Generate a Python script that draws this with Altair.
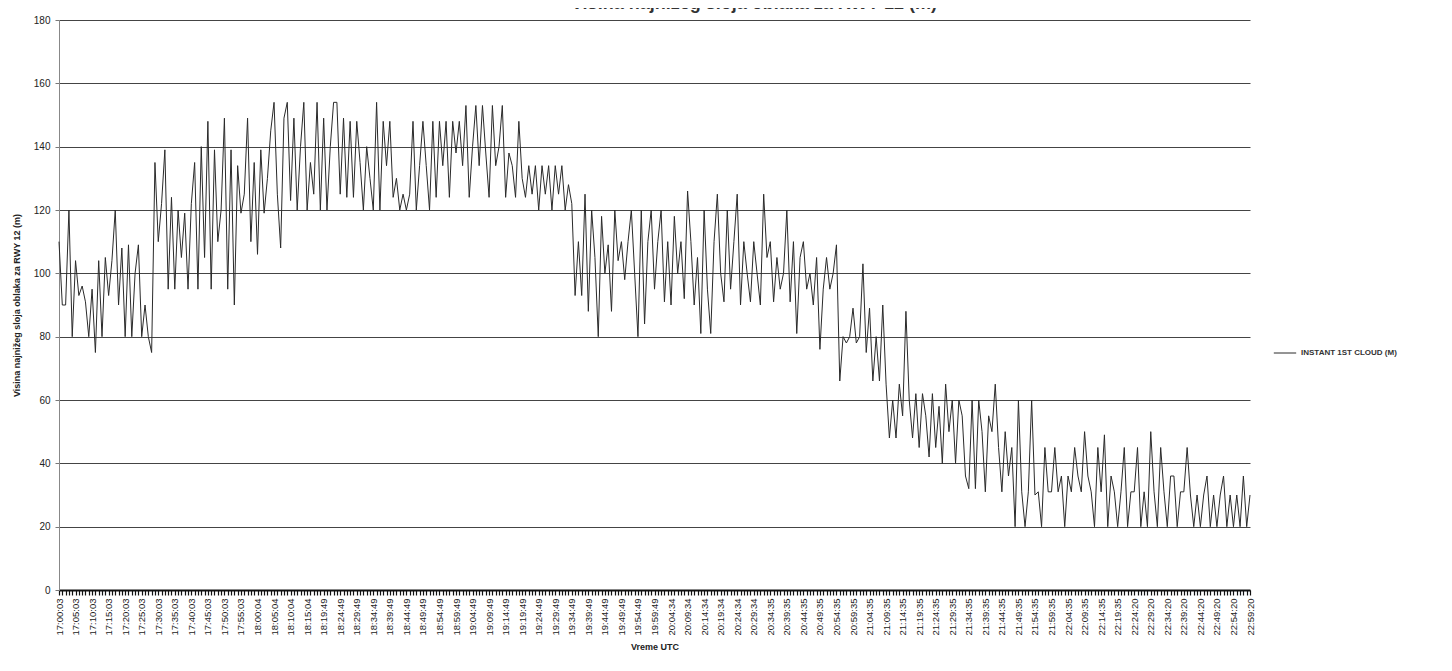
import json
import altair as alt
import pandas as pd

# ---------------- data ----------------
title_text = "Visina najnižeg sloja oblaka za RWY 12 (m)"
y_title = "Visina najnižeg sloja oblaka za RWY 12 (m)"
x_title = "Vreme UTC"
series_name = "INSTANT 1ST CLOUD (M)"

tick_labels = [
    "17:00:03", "17:05:03", "17:10:03", "17:15:03", "17:20:03", "17:25:03",
    "17:30:03", "17:35:03", "17:40:03", "17:45:03", "17:50:03", "17:55:03",
    "18:00:04", "18:05:04", "18:10:04", "18:15:04",
    "18:19:49", "18:24:49", "18:29:49", "18:34:49", "18:39:49", "18:44:49",
    "18:49:49", "18:54:49", "18:59:49", "19:04:49", "19:09:49", "19:14:49",
    "19:19:49", "19:24:49", "19:29:49", "19:34:49", "19:39:49", "19:44:49",
    "19:49:49", "19:54:49", "19:59:49",
    "20:04:34", "20:09:34", "20:14:34", "20:19:34", "20:24:34", "20:29:34",
    "20:34:35", "20:39:35", "20:44:35", "20:49:35", "20:54:35", "20:59:35",
    "21:04:35", "21:09:35", "21:14:35", "21:19:35", "21:24:35", "21:29:35",
    "21:34:35", "21:39:35", "21:44:35", "21:49:35", "21:54:35", "21:59:35",
    "22:04:35", "22:09:35", "22:14:35", "22:19:35",
    "22:24:20", "22:29:20", "22:34:20", "22:39:20", "22:44:20", "22:49:20",
    "22:54:20", "22:59:20",
]

y_ticks = [0, 20, 40, 60, 80, 100, 120, 140, 160, 180]

# one reading per minute, 17:00 .. 23:00
cloud_m = [
    110, 90, 90, 120, 80, 104, 93, 96, 91, 80,
    95, 75, 104, 80, 105, 93, 104, 120, 90, 108,
    80, 109, 80, 100, 109, 80, 90, 80, 75, 135,
    110, 122, 139, 95, 124, 95, 120, 105, 119, 95,
    122, 135, 95, 140, 105, 148, 95, 139, 110, 120,
    149, 95, 139, 90, 134, 119, 125, 149, 110, 135,
    106, 139, 119, 130, 145, 154, 125, 108, 149, 154,
    123, 149, 120, 140, 154, 120, 135, 125, 154, 120,
    149, 120, 140, 154, 154, 125, 149, 124, 148, 124,
    148, 135, 120, 140, 130, 120, 154, 120, 148, 134,
    148, 124, 130, 120, 125, 120, 125, 148, 120, 134,
    148, 134, 120, 148, 124, 148, 134, 148, 124, 148,
    138, 148, 134, 153, 124, 140, 153, 134, 153, 138,
    124, 153, 134, 140, 153, 124, 138, 134, 124, 148,
    130, 124, 134, 125, 134, 120, 134, 125, 134, 120,
    134, 125, 134, 120, 128, 122, 93, 110, 93, 125,
    88, 120, 105, 80, 118, 100, 109, 88, 120, 104,
    110, 98, 110, 120, 100, 80, 120, 84, 110, 120,
    95, 110, 120, 91, 110, 90, 118, 100, 110, 92,
    126, 110, 90, 105, 81, 120, 95, 81, 110, 125,
    100, 91, 120, 95, 110, 125, 90, 110, 100, 91,
    110, 100, 90, 125, 105, 110, 91, 105, 95, 100,
    120, 91, 110, 81, 105, 110, 95, 100, 90, 105,
    76, 95, 105, 95, 100, 109, 66, 80, 78, 80,
    89, 78, 80, 103, 75, 89, 66, 80, 66, 90,
    65, 48, 60, 48, 65, 55, 88, 60, 48, 62,
    45, 62, 55, 42, 62, 45, 58, 40, 65, 50,
    60, 40, 60, 55, 36, 32, 60, 32, 60, 50,
    31, 55, 50, 65, 45, 31, 50, 36, 45, 20,
    60, 31, 20, 31, 60, 30, 31, 20, 45, 31,
    31, 45, 31, 36, 20, 36, 31, 45, 36, 31,
    50, 36, 31, 20, 45, 31, 49, 20, 36, 31,
    20, 31, 45, 20, 31, 31, 45, 20, 31, 20,
    50, 31, 20, 45, 31, 20, 36, 36, 20, 31,
    31, 45, 30, 20, 30, 20, 30, 36, 20, 30,
    20, 30, 36, 20, 30, 20, 30, 20, 36, 20, 30,
]

# ---------------- chart ----------------
n = len(cloud_m)
df = pd.DataFrame({"idx": list(range(n)), "h": cloud_m, "series": [series_name] * n})

labels_js = json.dumps(tick_labels)
label_expr = f"datum.value % 5 == 0 ? {labels_js}[datum.value / 5] : ''"

FONT = "Liberation Sans"

line = alt.Chart(df).mark_line(strokeWidth=1).encode(
    x=alt.X(
        "idx:Q",
        scale=alt.Scale(domain=[0, n - 1], nice=False, zero=False),
        axis=alt.Axis(
            values=list(range(n)),
            labelExpr=label_expr,
            labelAngle=-90,
            labelOverlap=False,
            labelFlush=False,
            labelFontSize=9.5,
            labelColor="#222222",
            labelPadding=3,
            tickSize=5,
            tickColor="#111111",
            tickWidth=1.2,
            domainColor="#111111",
            domainWidth=2,
            grid=False,
            title=x_title,
            titleFontSize=9,
            titleFontWeight="bold",
            titleColor="#222222",
            titlePadding=8,
        ),
    ),
    y=alt.Y(
        "h:Q",
        scale=alt.Scale(domain=[0, 180], nice=False),
        axis=alt.Axis(
            values=y_ticks,
            grid=True,
            gridColor="#444444",
            gridWidth=1.2,
            labelFontSize=10,
            labelColor="#222222",
            labelPadding=5,
            tickSize=4,
            tickColor="#777777",
            domainColor="#888888",
            title=y_title,
            titleFontSize=9,
            titleFontWeight="bold",
            titleColor="#222222",
            titleX=-38,
        ),
    ),
    color=alt.Color(
        "series:N",
        scale=alt.Scale(range=["#2a2a2a"]),
        legend=alt.Legend(
            title=None,
            orient="none",
            legendX=1214,
            legendY=321,
            symbolType="stroke",
            symbolSize=500,
            symbolStrokeWidth=1,
            labelFontSize=8,
            labelFontWeight="bold",
            labelColor="#333333",
        ),
    ),
)

title_df = pd.DataFrame({"t": [title_text]})
title = alt.Chart(title_df).mark_text(
    fontSize=18, fontWeight="bold", color="#333333", baseline="alphabetic", align="center"
).encode(text="t:N", x=alt.value(695), y=alt.value(-11))

chart = (
    alt.layer(line, title)
    .properties(
        width=1191,
        height=570,
        autosize=alt.AutoSizeParams(type="none"),
        padding={"left": 51, "top": 12, "right": 194, "bottom": 70},
        background="white",
    )
    .configure(font=FONT)
    .configure_view(stroke=None)
)

chart.save("out.html", embed_options={"renderer": "svg", "actions": False})
